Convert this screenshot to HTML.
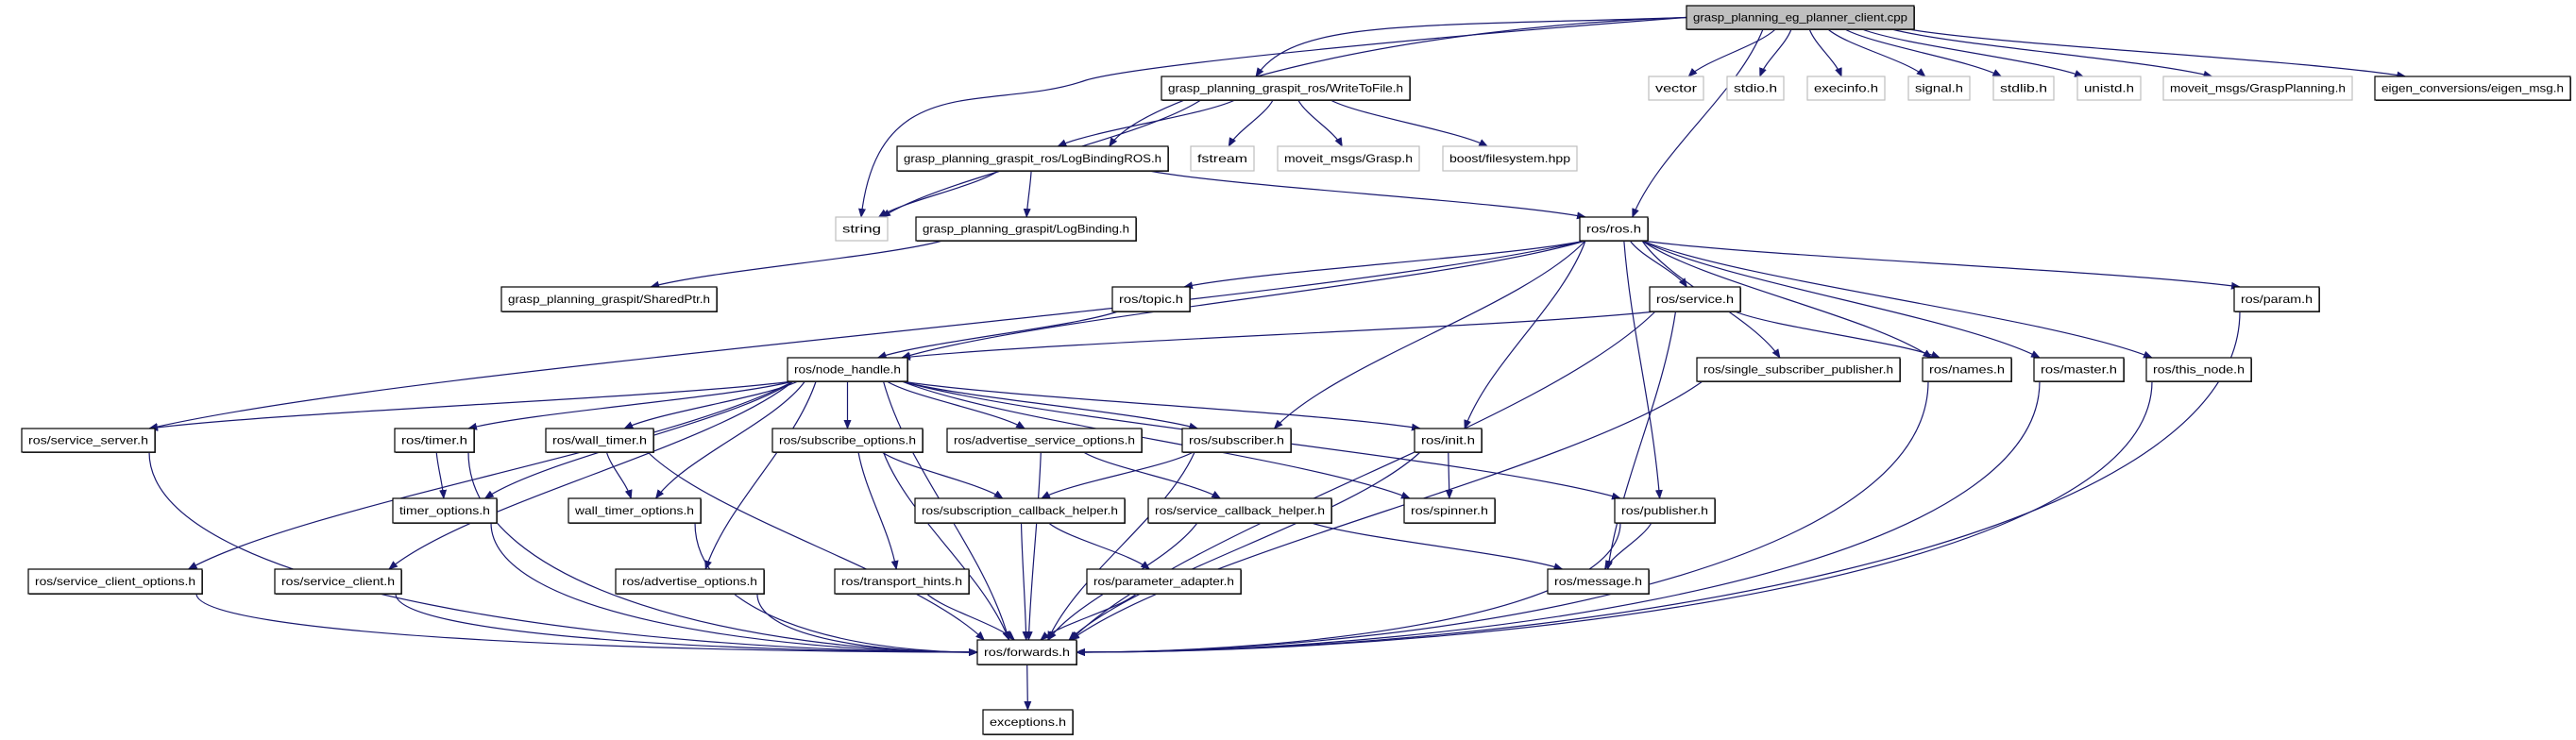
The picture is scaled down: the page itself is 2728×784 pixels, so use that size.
<!DOCTYPE html>
<html><head><meta charset="utf-8"><style>
html,body{margin:0;padding:0;background:#fff;}
svg{display:block;}
text{font-family:"Liberation Sans",Arial,sans-serif;font-size:12px;fill:#000;}
</style></head><body>
<svg id="g" xmlns="http://www.w3.org/2000/svg" width="2728" height="784" viewBox="0 0 2728 784">
<defs><marker id="a" markerWidth="10" markerHeight="8" refX="9" refY="4" orient="auto" markerUnits="userSpaceOnUse"><path d="M0,0 L10,4 L0,8 z" fill="#191970"/></marker></defs>
<g id="edges" fill="none" stroke="#191970" stroke-width="1.2"></g>
<g id="nodes"></g>
</svg>
<script>
var R1=[6,31],R2=[81,106],R3=[155,181],R4=[230,255],R5=[304,330],R6=[379,404],R7=[454,479],R8=[528,554],R9=[603,629],R10=[678,704],R11=[752,778];
var N={
top:["grasp_planning_eg_planner_client.cpp",1786,2027,R1,2],
wtf:["grasp_planning_graspit_ros/WriteToFile.h",1230,1493,R2,1],
vector:["vector",1746,1804,R2,0],stdio:["stdio.h",1829,1889,R2,0],execinfo:["execinfo.h",1914,1996,R2,0],
signal:["signal.h",2021,2086,R2,0],stdlib:["stdlib.h",2111,2175,R2,0],unistd:["unistd.h",2200,2267,R2,0],
gp:["moveit_msgs/GraspPlanning.h",2291,2491,R2,0],eig:["eigen_conversions/eigen_msg.h",2515,2722,R2,1],
lbr:["grasp_planning_graspit_ros/LogBindingROS.h",950,1237,R3,1],fstream:["fstream",1261,1328,R3,0],
grasp:["moveit_msgs/Grasp.h",1353,1503,R3,0],boost:["boost/filesystem.hpp",1528,1670,R3,0],
string:["string",885,940,R4,0],lb:["grasp_planning_graspit/LogBinding.h",970,1203,R4,1],ros:["ros/ros.h",1673,1745,R4,1],
sp:["grasp_planning_graspit/SharedPtr.h",531,759,R5,1],topic:["ros/topic.h",1178,1260,R5,1],service:["ros/service.h",1747,1843,R5,1],param:["ros/param.h",2366,2456,R5,1],
nh:["ros/node_handle.h",834,961,R6,1],ssp:["ros/single_subscriber_publisher.h",1797,2012,R6,1],names:["ros/names.h",2036,2130,R6,1],master:["ros/master.h",2154,2249,R6,1],thisn:["ros/this_node.h",2273,2384,R6,1],
ss:["ros/service_server.h",23,164,R7,1],timer:["ros/timer.h",418,502,R7,1],wt:["ros/wall_timer.h",578,692,R7,1],so:["ros/subscribe_options.h",818,977,R7,1],
aso:["ros/advertise_service_options.h",1003,1209,R7,1],sub:["ros/subscriber.h",1252,1367,R7,1],init:["ros/init.h",1498,1569,R7,1],
to:["timer_options.h",416,526,R8,1],wto:["wall_timer_options.h",602,742,R8,1],sch:["ros/subscription_callback_helper.h",969,1191,R8,1],
svch:["ros/service_callback_helper.h",1216,1410,R8,1],spin:["ros/spinner.h",1487,1583,R8,1],pub:["ros/publisher.h",1710,1816,R8,1],
sco:["ros/service_client_options.h",30,214,R9,1],sc:["ros/service_client.h",291,425,R9,1],ao:["ros/advertise_options.h",652,809,R9,1],
th:["ros/transport_hints.h",884,1026,R9,1],pa:["ros/parameter_adapter.h",1151,1314,R9,1],msg:["ros/message.h",1639,1746,R9,1],
fw:["ros/forwards.h",1035,1140,R10,1],exc:["exceptions.h",1041,1136,R11,1]
};
var E=[["top","string"],["top","lbr"],["top","wtf"],["top","ros"],["top","vector"],["top","stdio"],["top","execinfo"],["top","signal"],["top","stdlib"],["top","unistd"],["top","gp"],["top","eig"],
["wtf","string"],["wtf","lbr"],["wtf","fstream"],["wtf","grasp"],["wtf","boost"],["lbr","string"],["lbr","lb"],["lbr","ros"],["lb","sp"],
["ros","nh"],["ros","topic"],["ros","ss"],["ros","service"],["ros","sub"],["ros","init"],["ros","pub"],["ros","ssp"],["ros","names"],["ros","master"],["ros","thisn"],["ros","param"],
["topic","nh"],["service","nh"],["service","names"],["service","msg"],["service","fw"],["param","fw"],["ssp","fw"],["names","fw"],["master","fw"],["thisn","fw"],
["nh","ss"],["nh","sco"],["nh","sc"],["nh","timer"],["nh","to"],["nh","wt"],["nh","wto"],["nh","ao"],["nh","so"],["nh","aso"],["nh","sub"],["nh","init"],["nh","spin"],["nh","pub"],["nh","fw"],
["ss","fw"],["timer","to"],["timer","fw"],["wt","wto"],["wt","fw"],["to","fw"],["wto","fw"],["so","sch"],["so","th"],["so","fw"],["aso","svch"],["aso","fw"],
["sub","sch"],["sub","fw"],["sch","pa"],["sch","fw"],["svch","msg"],["svch","fw"],["pa","fw"],["th","fw"],["ao","fw"],["sc","fw"],["sco","fw"],["init","spin"],["init","fw"],["pub","msg"],["pub","fw"],["fw","exc"]];
var ns="http://www.w3.org/2000/svg",eg=document.getElementById("edges"),ng=document.getElementById("nodes");
function el(t,a,p){var e=document.createElementNS(ns,t);for(var k in a)e.setAttribute(k,a[k]);p.appendChild(e);return e;}
E.forEach(function(e){var s=N[e[0]],t=N[e[1]];
var scx=(s[1]+s[2])/2,tcx=(t[1]+t[2])/2,sy=s[3][1],ty=t[3][0];
var sx=Math.max(s[1]+6,Math.min(s[2]-6,scx+(tcx-scx)*0.2));
var tx=Math.max(t[1]+6,Math.min(t[2]-6,tcx+(scx-tcx)*0.1)),d;
var dy=ty-sy;
if(e[0]=="top" && (e[1]=="string"||e[1]=="lbr"||e[1]=="wtf")){
  sx=s[1]; sy=(s[3][0]+s[3][1])/2; dy=ty-sy;
  if(e[1]=="wtf"){tx=1330;}
  if(e[1]=="string"){d="M"+sx+","+sy+" C1500,40 1200,70 1150,85 C1050,120 930,70 912,"+ty;}
  else d="M"+sx+","+sy+" C"+(sx-300)+","+(sy+10)+" "+(tx+40)+","+(ty-60)+" "+tx+","+ty;
}else if(e[1]=="fw" && Math.abs(tcx-scx)>dy*3){
  var side=tcx>scx?t[1]:t[2]; ty=(t[3][0]+t[3][1])/2; tx=side;
  d="M"+sx+","+sy+" C"+sx+","+(sy+(ty-sy)*0.7)+" "+(tx+(scx-tx)*0.4)+","+ty+" "+tx+","+ty;
}else{
  d="M"+sx+","+sy+" C"+(sx+(tx-sx)*0.2)+","+(sy+dy*0.35)+" "+(tx-(tx-sx)*0.2)+","+(ty-dy*0.35)+" "+tx+","+ty;
}
el("path",{d:d,"marker-end":"url(#a)"},eg);});
for(var k in N){var n=N[k],x=n[1],w=n[2]-n[1],y=n[3][0],h=n[3][1]-n[3][0];
if(n[4]>0){el("rect",{x:x+1,y:y+1,width:w,height:h,fill:"#444"},ng);}
el("rect",{x:x,y:y,width:w,height:h,fill:n[4]==2?"#bfbfbf":"#fff",stroke:n[4]==0?"#bfbfbf":"#000","stroke-width":1.2},ng);
var t=el("text",{x:x+w/2,y:y+h/2+4,"text-anchor":"middle",textLength:w-14,lengthAdjust:"spacingAndGlyphs"},ng);t.textContent=n[0];}
</script>
</body></html>
